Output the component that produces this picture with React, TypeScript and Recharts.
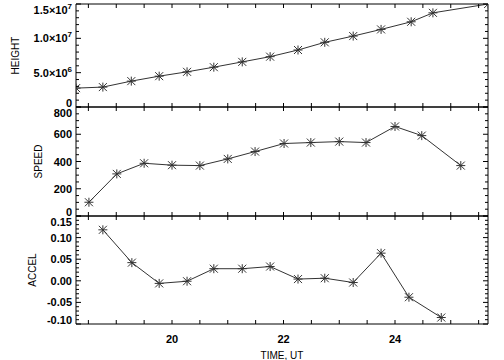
import { LineChart, Line, XAxis, YAxis, ReferenceLine } from 'recharts'

// times in hours UT
const heightTimes = [18.28, 18.76, 19.27, 19.77, 20.27, 20.75, 21.26, 21.76, 22.26, 22.74, 23.25, 23.75, 24.29, 24.68, 25.67]
const heightValues = [2.75e6, 2.9e6, 3.77e6, 4.49e6, 5.12e6, 5.8e6, 6.57e6, 7.33e6, 8.3e6, 9.42e6, 1.033e7, 1.13e7, 1.241e7, 1.371e7, 1.5e7]

const speedTimes = [18.51, 19.01, 19.5, 20.0, 20.5, 21.0, 21.49, 22.01, 22.49, 23.0, 23.48, 24.0, 24.48, 25.18]
const speedValues = [101, 309, 387, 373, 370, 419, 473, 532, 539, 546, 539, 657, 590, 370]

const accelTimes = [18.76, 19.28, 19.77, 20.27, 20.75, 21.26, 21.76, 22.26, 22.74, 23.25, 23.75, 24.25, 24.83]
const accelValues = [0.118, 0.042, -0.006, -0.001, 0.028, 0.028, 0.033, 0.004, 0.006, -0.004, 0.064, -0.038, -0.085]

const timeDomain = [18.278, 25.668]
const timeLabels = [20, 22, 24]
const heightMajor = [0, 5e6, 1e7, 1.5e7]
const speedMajor = [0, 200, 400, 600, 800]
const accelMajor = [-0.1, -0.05, 0, 0.05, 0.1, 0.15]

const LEFT = 76
const RIGHT = 488
const FONT = 'Liberation Sans, Arial, sans-serif'

const range = (a: number, b: number, step: number) => {
  const out: number[] = []
  const n = Math.round((b - a) / step)
  for (let i = 0; i <= n; i++) out.push(Math.round((a + i * step) * 1e6) / 1e6)
  return out
}

const timeTicks = range(18.5, 25.5, 0.5)
const heightTicks = range(0, 1.5e7, 1e6)
const speedTicks = range(0, 800, 50)
const accelTicks = range(-0.1, 0.15, 0.01)

const toRows = (t: number[], v: number[]) => t.map((time, i) => ({ time, value: v[i] }))

function Asterisk(props: any) {
  const { cx, cy, index } = props
  if (cx == null || cy == null) return <g key={index} />
  const r = 4
  const d = `M${cx - r},${cy - r}L${cx + r},${cy + r}M${cx - r},${cy + r}L${cx + r},${cy - r}M${cx},${cy - r - 0.5}L${cx},${cy + r + 0.5}M${cx - r - 0.5},${cy}L${cx + r + 0.5},${cy}`
  return <path key={index} d={d} stroke="#333" strokeWidth={1} fill="none" />
}

const sameVal = (a: number, b: number) => Math.abs(a - b) < 1e-9 * Math.max(1, Math.abs(a))

function heightLabel(v: number) {
  if (v === 0) return <tspan>0</tspan>
  const exp = Math.floor(Math.log10(v) + 1e-9)
  const mant = (v / Math.pow(10, exp)).toFixed(1)
  return (
    <>
      <tspan>{mant}×10</tspan>
      <tspan dy={-4} fontSize={8}>{exp}</tspan>
    </>
  )
}

interface Panel {
  top: number
  bottom: number
  major: number[]
  fmt: (v: number) => any
}

function makeYTick(p: Panel) {
  return (props: any) => {
    const v = props.payload.value
    const yy = props.y
    const isMajor = p.major.some((m) => sameVal(m, v))
    const len = isMajor ? 5 : 3
    let ly = yy
    if (Math.abs(yy - p.top) < 1.5) ly += 5.5
    if (Math.abs(yy - p.bottom) < 1.5) ly -= 4.5
    return (
      <g>
        <path d={`M${LEFT},${yy}h${len}M${RIGHT},${yy}h${-len}`} stroke="#000" strokeWidth={1} fill="none" />
        {isMajor && (
          <text x={LEFT - 4} y={ly} textAnchor="end" dominantBaseline="central" fontSize={11} fontWeight="bold" fontFamily={FONT} fill="#000">
            {p.fmt(v)}
          </text>
        )}
      </g>
    )
  }
}

function makeXTick(p: Panel, labels: boolean) {
  return (props: any) => {
    const v = props.payload.value
    const xx = props.x
    const show = labels && timeLabels.some((m) => sameVal(m, v))
    return (
      <g>
        <path d={`M${xx},${p.bottom}v-4M${xx},${p.top}v4`} stroke="#000" strokeWidth={1} fill="none" />
        {show && (
          <text x={xx} y={p.bottom + 15} textAnchor="middle" dominantBaseline="central" fontSize={11} fontWeight="bold" fontFamily={FONT} fill="#000">
            {v}
          </text>
        )}
      </g>
    )
  }
}

function yTitle(text: string, x: number, p: Panel) {
  return () => {
    const cy = (p.top + p.bottom) / 2
    return (
      <text x={x} y={cy} transform={`rotate(-90 ${x} ${cy})`} textAnchor="middle" dominantBaseline="central" fontSize={10} fontFamily={FONT} fill="#000">
        {text}
      </text>
    )
  }
}

function xTitle() {
  return (
    <text x={(LEFT + RIGHT) / 2} y={355} textAnchor="middle" dominantBaseline="central" fontSize={10} fontFamily={FONT} fill="#000">
      TIME, UT
    </text>
  )
}

interface PanelChartProps {
  rows: { time: number; value: number }[]
  panel: Panel
  yDomain: number[]
  yTicks: number[]
  title: string
  titleX: number
  last: boolean
}

function PanelChart({ rows, panel, yDomain, yTicks, title, titleX, last }: PanelChartProps) {
  return (
    <div style={{ position: 'absolute', left: 0, top: 0 }}>
      <LineChart
        width={504}
        height={360}
        data={rows}
        margin={{ top: panel.top, right: 504 - RIGHT, bottom: 360 - panel.bottom - 1, left: 0 }}
      >
        <XAxis
          dataKey="time"
          type="number"
          domain={timeDomain}
          allowDataOverflow
          ticks={timeTicks}
          interval={0}
          height={1}
          axisLine={false}
          tickLine={false}
          tick={makeXTick(panel, last)}
          label={last ? xTitle : undefined}
        />
        <YAxis
          type="number"
          domain={yDomain}
          allowDataOverflow
          ticks={yTicks}
          interval={0}
          width={LEFT}
          axisLine={false}
          tickLine={false}
          tick={makeYTick(panel)}
          label={yTitle(title, titleX, panel)}
        />
        <ReferenceLine x={timeDomain[0]} stroke="#000" strokeWidth={1} />
        <ReferenceLine x={timeDomain[1]} stroke="#000" strokeWidth={1} />
        <ReferenceLine y={yDomain[0]} stroke="#000" strokeWidth={1} />
        <ReferenceLine y={yDomain[1]} stroke="#000" strokeWidth={1} />
        <Line
          dataKey="value"
          stroke="#333"
          strokeWidth={1}
          dot={Asterisk}
          activeDot={false}
          isAnimationActive={false}
        />
      </LineChart>
    </div>
  )
}

export default function App() {
  return (
    <div style={{ position: 'absolute', left: 0, top: 0, width: 504, height: 360, background: '#fff' }}>
      <PanelChart
        rows={toRows(heightTimes, heightValues)}
        panel={{ top: 4, bottom: 107, major: heightMajor, fmt: heightLabel }}
        yDomain={[0, 1.5e7]}
        yTicks={heightTicks}
        title="HEIGHT"
        titleX={15}
        last={false}
      />
      <PanelChart
        rows={toRows(speedTimes, speedValues)}
        panel={{ top: 107, bottom: 216, major: speedMajor, fmt: (v) => String(v) }}
        yDomain={[0, 800]}
        yTicks={speedTicks}
        title="SPEED"
        titleX={38}
        last={false}
      />
      <PanelChart
        rows={toRows(accelTimes, accelValues)}
        panel={{ top: 216, bottom: 324, major: accelMajor, fmt: (v) => v.toFixed(2) }}
        yDomain={[-0.1, 0.15]}
        yTicks={accelTicks}
        title="ACCEL"
        titleX={32}
        last={true}
      />
    </div>
  )
}
